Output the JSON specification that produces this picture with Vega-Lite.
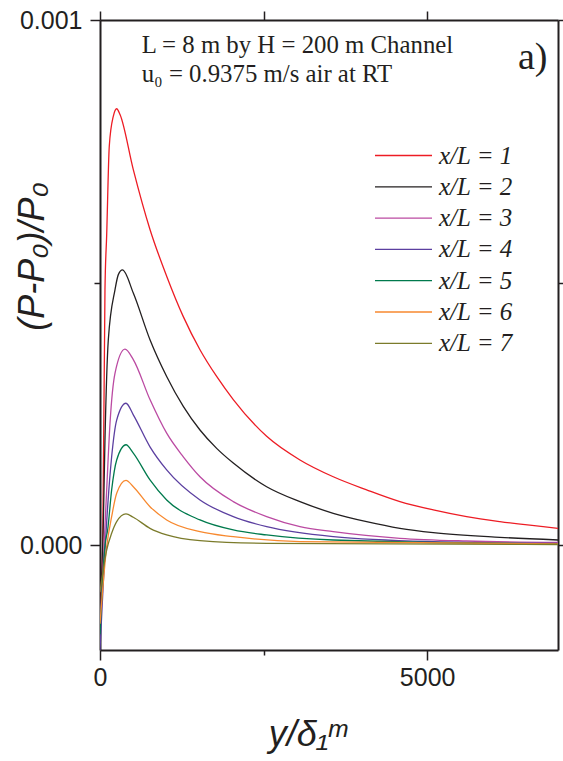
{
  "$schema": "https://vega.github.io/schema/vega-lite/v6.json",
  "width": 458,
  "height": 630,
  "autosize": "none",
  "padding": {"left": 100, "top": 20, "right": 5, "bottom": 111},
  "background": "white",
  "config": {
    "view": {"stroke": null},
    "axis": {
      "domainColor": "#231f20", "domainWidth": 2, "tickColor": "#231f20", "tickWidth": 1.5,
      "labelFont": "Liberation Sans", "labelFontSize": 25, "labelColor": "#231f20",
      "grid": false, "titleFont": "Liberation Sans", "titleFontStyle": "italic",
      "titleFontWeight": "normal", "titleColor": "#231f20", "labelFlush": false, "labelOverlap": false
    }
  },
  "datasets": {
    "curves": [
      {"s":1,"x":0,"y":-0.00012},{"s":1,"x":41,"y":0},{"s":1,"x":76,"y":0.000486},{"s":1,"x":102,"y":0.00059},{"s":1,"x":142,"y":0.00076},{"s":1,"x":204,"y":0.000817},{"s":1,"x":255,"y":0.000831},{"s":1,"x":306,"y":0.00082},{"s":1,"x":509,"y":0.000715},{"s":1,"x":764,"y":0.000601},{"s":1,"x":1019,"y":0.000512},{"s":1,"x":1273,"y":0.000435},{"s":1,"x":1528,"y":0.000372},{"s":1,"x":1783,"y":0.000321},{"s":1,"x":2037,"y":0.000277},{"s":1,"x":2547,"y":0.000207},{"s":1,"x":3056,"y":0.000162},{"s":1,"x":3565,"y":0.00013},{"s":1,"x":4075,"y":0.000105},{"s":1,"x":4584,"y":0.0000826},{"s":1,"x":5094,"y":0.0000668},{"s":1,"x":5603,"y":0.000054},{"s":1,"x":6112,"y":0.0000445},{"s":1,"x":7000,"y":0.0000318},
      {"s":2,"x":0,"y":-0.00014},{"s":2,"x":51,"y":0.000042},{"s":2,"x":76,"y":0.0002},{"s":2,"x":127,"y":0.000391},{"s":2,"x":229,"y":0.000486},{"s":2,"x":280,"y":0.000515},{"s":2,"x":344,"y":0.000524},{"s":2,"x":509,"y":0.00048},{"s":2,"x":764,"y":0.000391},{"s":2,"x":1019,"y":0.000321},{"s":2,"x":1273,"y":0.000264},{"s":2,"x":1528,"y":0.000219},{"s":2,"x":1783,"y":0.000184},{"s":2,"x":2037,"y":0.000156},{"s":2,"x":2547,"y":0.000111},{"s":2,"x":3056,"y":0.0000826},{"s":2,"x":3565,"y":0.0000604},{"s":2,"x":4075,"y":0.0000445},{"s":2,"x":4584,"y":0.0000318},{"s":2,"x":5094,"y":0.0000235},{"s":2,"x":6112,"y":0.0000146},{"s":2,"x":7000,"y":0.0000095},
      {"s":3,"x":0,"y":-0.00016},{"s":3,"x":66,"y":0.0000095},{"s":3,"x":102,"y":0.000105},{"s":3,"x":153,"y":0.000232},{"s":3,"x":229,"y":0.000327},{"s":3,"x":382,"y":0.000373},{"s":3,"x":509,"y":0.000353},{"s":3,"x":764,"y":0.000277},{"s":3,"x":1019,"y":0.000213},{"s":3,"x":1273,"y":0.000168},{"s":3,"x":1528,"y":0.00013},{"s":3,"x":2037,"y":0.0000826},{"s":3,"x":2547,"y":0.000054},{"s":3,"x":3056,"y":0.0000349},{"s":3,"x":3565,"y":0.0000254},{"s":3,"x":4584,"y":0.0000127},{"s":3,"x":5603,"y":0.0000076},{"s":3,"x":7000,"y":0.0000051},
      {"s":4,"x":0,"y":-0.0002},{"s":4,"x":117,"y":0.000073},{"s":4,"x":178,"y":0.000168},{"s":4,"x":255,"y":0.000238},{"s":4,"x":397,"y":0.00027},{"s":4,"x":509,"y":0.000248},{"s":4,"x":764,"y":0.000187},{"s":4,"x":1019,"y":0.000143},{"s":4,"x":1528,"y":0.0000858},{"s":4,"x":2037,"y":0.000054},{"s":4,"x":2547,"y":0.0000349},{"s":4,"x":3565,"y":0.0000159},{"s":4,"x":5094,"y":0.0000064},{"s":4,"x":7000,"y":0.0000032},
      {"s":5,"x":0,"y":-0.00017},{"s":5,"x":76,"y":0},{"s":5,"x":117,"y":0.0000286},{"s":5,"x":178,"y":0.000105},{"s":5,"x":255,"y":0.000162},{"s":5,"x":397,"y":0.000191},{"s":5,"x":509,"y":0.000175},{"s":5,"x":764,"y":0.000124},{"s":5,"x":1019,"y":0.0000858},{"s":5,"x":1528,"y":0.0000477},{"s":5,"x":2037,"y":0.0000286},{"s":5,"x":2547,"y":0.0000191},{"s":5,"x":3565,"y":0.0000095},{"s":5,"x":7000,"y":0.000002},
      {"s":6,"x":0,"y":-0.00015},{"s":6,"x":102,"y":-0.000003},{"s":6,"x":178,"y":0.000054},{"s":6,"x":255,"y":0.0000986},{"s":6,"x":397,"y":0.000123},{"s":6,"x":509,"y":0.000111},{"s":6,"x":764,"y":0.000073},{"s":6,"x":1019,"y":0.0000477},{"s":6,"x":1528,"y":0.0000254},{"s":6,"x":2037,"y":0.0000159},{"s":6,"x":3056,"y":0.0000064},{"s":6,"x":7000,"y":0.000002},
      {"s":7,"x":0,"y":-0.00009},{"s":7,"x":102,"y":-0.0000095},{"s":7,"x":178,"y":0.0000223},{"s":7,"x":255,"y":0.0000445},{"s":7,"x":397,"y":0.0000591},{"s":7,"x":509,"y":0.0000528},{"s":7,"x":764,"y":0.0000318},{"s":7,"x":1019,"y":0.0000191},{"s":7,"x":1528,"y":0.0000083},{"s":7,"x":2547,"y":0.0000032},{"s":7,"x":7000,"y":0.000001}
    ],
    "notes": [
      {"x": 637, "y": 0.000938, "t": "L = 8 m by H = 200 m Channel"},
      {"x": 637, "y": 0.000881, "t": "u₀ = 0.9375 m/s air at RT"}
    ],
    "tag": [
      {"x": 6387, "y": 0.000906, "t": "a)"}
    ]
  },
  "resolve": {"axis": {"x": "independent", "y": "independent"}},
  "layer": [
    {
      "mark": {"type": "rule", "color": "#231f20", "strokeWidth": 2},
      "encoding": {"y": {"datum": 0, "type": "quantitative", "axis": null}}
    },
    {
      "data": {"name": "curves"},
      "mark": {"type": "line", "interpolate": "monotone", "strokeWidth": 1.3, "clip": true},
      "encoding": {
        "x": {"field": "x", "type": "quantitative",
          "scale": {"domain": [0, 7000], "nice": false, "zero": false},
          "axis": {"orient": "bottom", "values": [0, 2500, 5000],
            "labelExpr": "datum.value == 2500 ? '' : format(datum.value, 'd')",
            "tickSize": {"condition": {"test": "datum.value == 2500", "value": 5}, "value": 10},
            "labelPadding": 5, "title": "y/δ₁ᵐ", "titleFontSize": 36,
            "titleX": 207, "titleY": 95, "titleAlign": "center", "titleBaseline": "alphabetic"}},
        "y": {"field": "y", "type": "quantitative",
          "scale": {"domain": [-0.0002, 0.001], "nice": false, "zero": false},
          "axis": {"orient": "left", "values": [0, 0.0005, 0.001],
            "labelExpr": "datum.value == 0.0005 ? '' : format(datum.value, '.3f')",
            "tickSize": {"condition": {"test": "datum.value == 0.0005", "value": 6}, "value": 10},
            "labelPadding": 8, "title": "(P-P₀)/P₀", "titleFontSize": 36, "titleAngle": -90,
            "titleX": -57, "titleY": 236, "titleAlign": "center", "titleBaseline": "alphabetic"}},
        "color": {"field": "s", "type": "nominal",
          "scale": {"domain": [1, 2, 3, 4, 5, 6, 7],
            "range": ["#ed1c24", "#231f20", "#bb4aa2", "#5b3fa0", "#007a4d", "#f7892f", "#7b7b2b"]},
          "legend": {"orient": "none", "legendX": 274, "legendY": 121, "title": null,
            "symbolType": "stroke", "symbolSize": 3249, "symbolStrokeWidth": 1.3,
            "labelFont": "Liberation Serif", "labelFontStyle": "italic", "labelFontSize": 25,
            "labelColor": "#231f20", "labelOffset": 6, "rowPadding": 2.3, "clipHeight": 29,
            "labelExpr": "'x/L = ' + datum.label"}}
      }
    },
    {
      "data": {"name": "notes"},
      "mark": {"type": "text", "align": "left", "baseline": "alphabetic", "font": "Liberation Serif", "fontSize": 24.8, "color": "#231f20"},
      "encoding": {
        "x": {"field": "x", "type": "quantitative",
          "scale": {"domain": [0, 7000], "nice": false, "zero": false},
          "axis": {"orient": "top", "values": [0, 2500, 5000], "labels": false, "tickSize": 9, "title": null}},
        "y": {"field": "y", "type": "quantitative",
          "scale": {"domain": [-0.0002, 0.001], "nice": false, "zero": false},
          "axis": {"orient": "right", "values": [0, 0.0005, 0.001], "labels": false, "tickSize": 6, "title": null}},
        "text": {"field": "t"}
      }
    },
    {
      "data": {"name": "tag"},
      "mark": {"type": "text", "align": "left", "baseline": "alphabetic", "font": "Liberation Serif", "fontSize": 38, "color": "#231f20"},
      "encoding": {
        "x": {"field": "x", "type": "quantitative", "axis": null},
        "y": {"field": "y", "type": "quantitative", "axis": null},
        "text": {"field": "t"}
      }
    }
  ]
}
